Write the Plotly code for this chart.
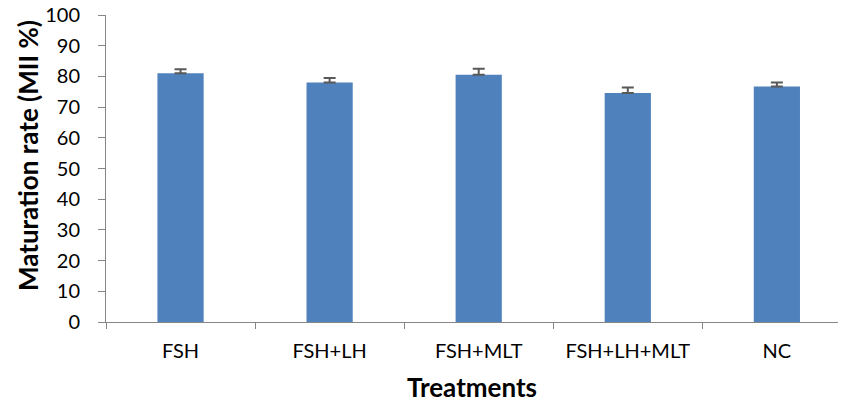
import plotly.graph_objects as go

categories = ["FSH", "FSH+LH", "FSH+MLT", "FSH+LH+MLT", "NC"]
values = [81.0, 78.0, 80.5, 74.6, 76.7]
errors = [1.3, 1.5, 2.0, 1.8, 1.3]
y_ticks = [0, 10, 20, 30, 40, 50, 60, 70, 80, 90, 100]

FONT = "Lato"

fig = go.Figure(go.Bar(
    x=categories, y=values,
    width=0.31,
    marker=dict(color="#4F81BD", line=dict(width=0)),
    error_y=dict(type="data", array=errors, arrayminus=[0]*len(errors),
                 symmetric=False, color="#595959", thickness=2, width=6),
))

fig.update_layout(
    width=841, height=403,
    margin=dict(l=106, r=3, t=15, b=81),
    plot_bgcolor="white", paper_bgcolor="white",
    showlegend=False,
    font=dict(family=FONT, color="black"),
)
fig.update_xaxes(
    range=[-0.5, 4.41], automargin=False,
    showline=True, linecolor="#868686", linewidth=1,
    ticks="outside", tickson="boundaries", ticklen=6, tickcolor="#868686",
    tickfont=dict(size=20, family=FONT),
    ticklabelstandoff=11,
    title=dict(text="<b>Treatments</b>", font=dict(size=26, family=FONT), standoff=17),
    showgrid=False,
)
fig.update_yaxes(
    range=[0, 100], tickvals=y_ticks, automargin=False,
    showline=True, linecolor="#868686", linewidth=1,
    ticks="outside", ticklen=7, tickcolor="#868686",
    tickfont=dict(size=20, family=FONT),
    ticklabelstandoff=14, ticklabeloverflow="allow",
    showgrid=False, zeroline=False,
)
fig.add_annotation(
    text="<b>Maturation rate (MII %)</b>", textangle=-90,
    xref="paper", yref="paper", x=0, y=0.5407, xshift=-78,
    xanchor="center", yanchor="middle", showarrow=False,
    font=dict(size=26, family=FONT, color="black"),
)

# remove the browser's default 8px body margin so the figure fills the window
fig.write_html(
    "out.html",
    config={"displayModeBar": False},
    post_script="document.body.style.margin='0';document.body.style.overflow='hidden';",
)
